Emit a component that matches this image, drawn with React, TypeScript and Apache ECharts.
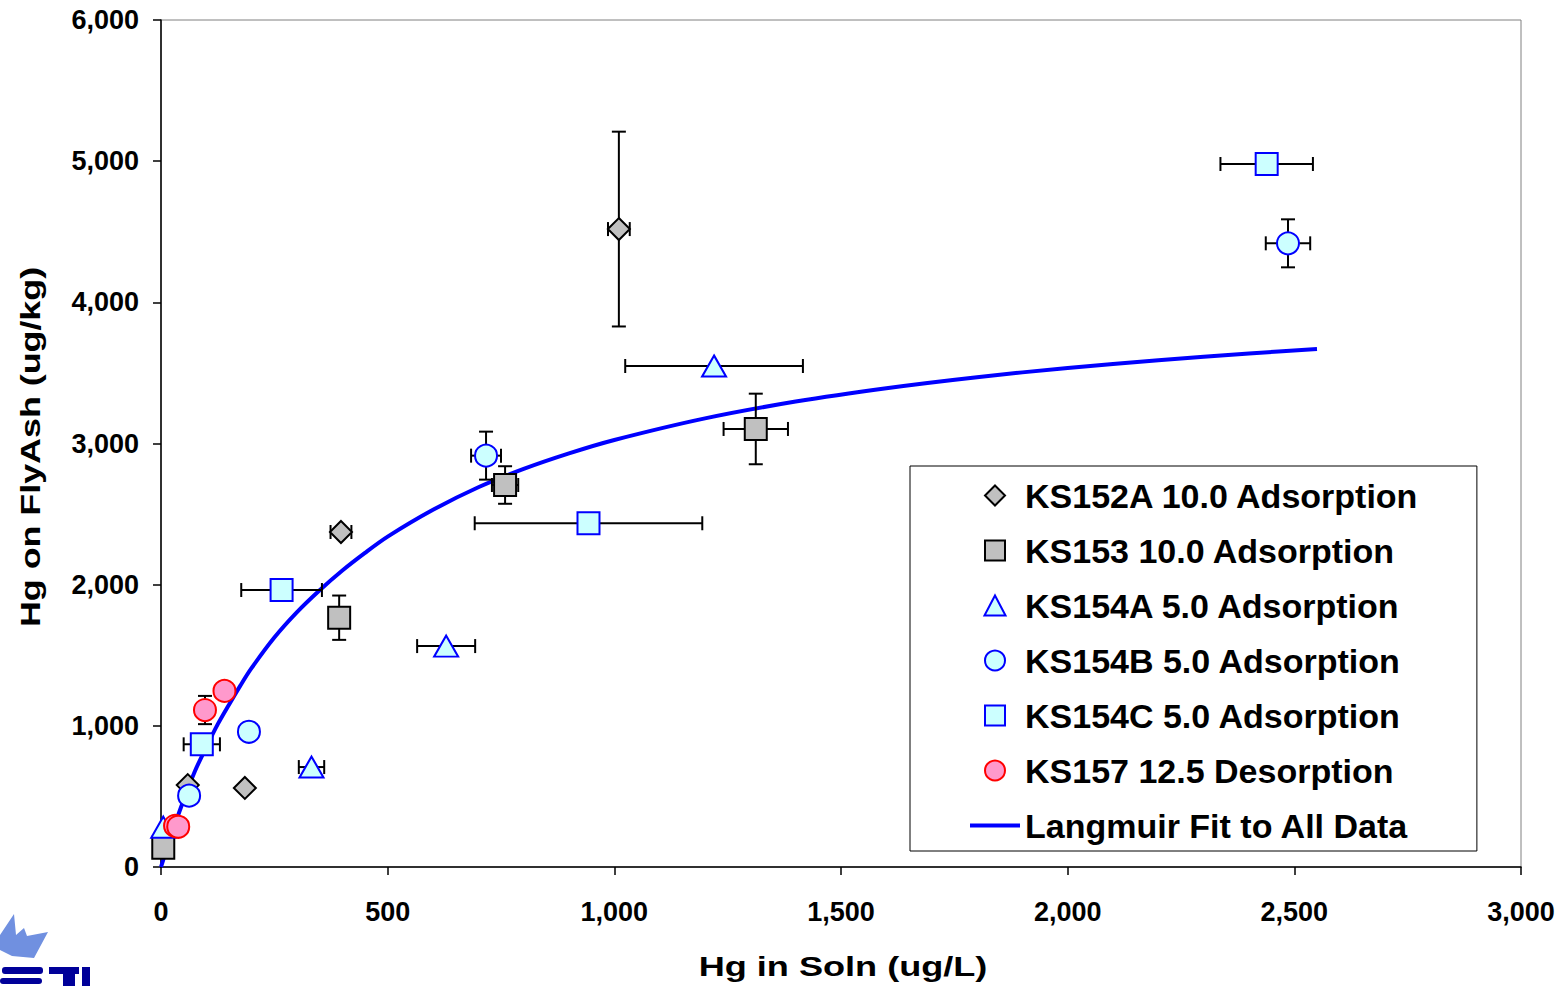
import React, { useEffect, useRef } from "react";
import * as echarts from "echarts";

// ---- data ----
const ks152aX = [59, 185, 397, 1010];
const ks152aY = [580, 560, 2373, 4519];
const ks152aXErr = [0, 0, 23, 24];
const ks152aYErr = [0, 0, 0, 690];

const ks153X = [5, 393, 759, 1312];
const ks153Y = [137, 1766, 2706, 3103];
const ks153XErr = [0, 0, 29, 71];
const ks153YErr = [0, 157, 133, 250];

const ks154aX = [5, 332, 629, 1220];
const ks154aY = [282, 708, 1565, 3549];
const ks154aXErr = [0, 28, 64, 196];
const ks154aYErr = [0, 0, 0, 0];

const ks154bX = [62, 194, 717, 2486];
const ks154bY = [505, 958, 2914, 4418];
const ks154bXErr = [0, 0, 33, 49];
const ks154bYErr = [0, 0, 170, 170];

const ks154cX = [90, 266, 943, 2439];
const ks154cY = [869, 1962, 2435, 4980];
const ks154cXErr = [40, 89, 251, 102];
const ks154cYErr = [0, 0, 0, 0];

const ks157X = [31, 38, 97, 140];
const ks157Y = [292, 285, 1112, 1247];
const ks157XErr = [0, 0, 0, 0];
const ks157YErr = [0, 0, 100, 0];

const fitX = [0, 10, 25, 50, 75, 100, 125, 150, 175, 200, 250, 300, 350, 400, 450, 500, 600, 700, 800, 900, 1000, 1200, 1400, 1600, 1800, 2000, 2200, 2400, 2550];
const fitY = [0, 102, 250, 475, 680, 850, 1010, 1150, 1285, 1410, 1625, 1805, 1960, 2100, 2225, 2340, 2530, 2690, 2820, 2930, 3025, 3178, 3297, 3392, 3470, 3535, 3590, 3638, 3669];

const seriesNames = [
  "KS152A 10.0 Adsorption",
  "KS153 10.0 Adsorption",
  "KS154A 5.0 Adsorption",
  "KS154B 5.0 Adsorption",
  "KS154C 5.0 Adsorption",
  "KS157 12.5 Desorption",
];
const fitName = "Langmuir Fit to All Data";

const xTitle = "Hg in Soln (ug/L)";
const yTitle = "Hg on FlyAsh (ug/kg)";

const FONT = "'Liberation Sans', Arial, sans-serif";

const zip = (xs: number[], ys: number[]) => xs.map((x, i) => [x, ys[i]]);
const zipErr = (xs: number[], ys: number[], ex: number[], ey: number[]) =>
  xs.map((x, i) => [x, ys[i], ex[i], ey[i]]);

const ICON_DIAMOND = "path://M10,0 L20,10 L10,20 L0,10 Z";
const ICON_SQUARE = "path://M0,0 L19,0 L19,19 L0,19 Z";
const ICON_TRIANGLE = "path://M10,0 L20,19 L0,19 Z";
const ICON_LINE = "path://M0,0 L50,0 L50,4 L0,4 Z";

export default function App() {
  const ref = useRef<HTMLDivElement>(null);
  useEffect(() => {
    if (!ref.current) return;
    const chart = echarts.init(ref.current, undefined, { renderer: "svg" });

    const groups = [
      { name: seriesNames[0], x: ks152aX, y: ks152aY, ex: ks152aXErr, ey: ks152aYErr, symbol: "diamond", size: 22, fill: "#C0C0C0", stroke: "#000000", icon: ICON_DIAMOND },
      { name: seriesNames[1], x: ks153X, y: ks153Y, ex: ks153XErr, ey: ks153YErr, symbol: "rect", size: 22, fill: "#C0C0C0", stroke: "#000000", icon: ICON_SQUARE },
      { name: seriesNames[2], x: ks154aX, y: ks154aY, ex: ks154aXErr, ey: ks154aYErr, symbol: "triangle", size: [24, 21], fill: "#CCFFFF", stroke: "#0000FF", icon: ICON_TRIANGLE },
      { name: seriesNames[3], x: ks154bX, y: ks154bY, ex: ks154bXErr, ey: ks154bYErr, symbol: "circle", size: 22, fill: "#CCFFFF", stroke: "#0000FF", icon: "circle" },
      { name: seriesNames[4], x: ks154cX, y: ks154cY, ex: ks154cXErr, ey: ks154cYErr, symbol: "rect", size: 22, fill: "#CCFFFF", stroke: "#0000FF", icon: ICON_SQUARE },
      { name: seriesNames[5], x: ks157X, y: ks157Y, ex: ks157XErr, ey: ks157YErr, symbol: "circle", size: 22, fill: "#FF99CC", stroke: "#FF0000", icon: "circle" },
    ];

    const errData: number[][] = [];
    groups.forEach((g) => errData.push(...zipErr(g.x, g.y, g.ex, g.ey)));

    const cap = 7;
    const errSeries = {
      type: "custom",
      name: "errors",
      data: errData,
      encode: { x: 0, y: 1 },
      z: 2,
      silent: true,
      renderItem: (params: any, api: any) => {
        const x = api.value(0);
        const y = api.value(1);
        const ex = api.value(2);
        const ey = api.value(3);
        const style = { stroke: "#000000", lineWidth: 2 };
        const children: any[] = [];
        if (ex > 0) {
          const a = api.coord([x - ex, y]);
          const b = api.coord([x + ex, y]);
          children.push({ type: "line", shape: { x1: a[0], y1: a[1], x2: b[0], y2: b[1] }, style });
          children.push({ type: "line", shape: { x1: a[0], y1: a[1] - cap, x2: a[0], y2: a[1] + cap }, style });
          children.push({ type: "line", shape: { x1: b[0], y1: b[1] - cap, x2: b[0], y2: b[1] + cap }, style });
        }
        if (ey > 0) {
          const a = api.coord([x, y - ey]);
          const b = api.coord([x, y + ey]);
          children.push({ type: "line", shape: { x1: a[0], y1: a[1], x2: b[0], y2: b[1] }, style });
          children.push({ type: "line", shape: { x1: a[0] - cap, y1: a[1], x2: a[0] + cap, y2: a[1] }, style });
          children.push({ type: "line", shape: { x1: b[0] - cap, y1: b[1], x2: b[0] + cap, y2: b[1] }, style });
        }
        return { type: "group", children };
      },
    };

    const scatterSeries = groups.map((g) => ({
      type: "scatter",
      name: g.name,
      data: zip(g.x, g.y),
      symbol: g.symbol,
      symbolSize: g.size,
      z: 3,
      itemStyle: { color: g.fill, borderColor: g.stroke, borderWidth: 2, opacity: 1 },
    }));

    const fitSeries = {
      type: "line",
      name: fitName,
      data: zip(fitX, fitY),
      smooth: 0.3,
      showSymbol: false,
      symbol: "none",
      z: 1,
      lineStyle: { color: "#0000FF", width: 4 },
      itemStyle: { color: "#0000FF", borderWidth: 0 },
    };

    const legendData: any[] = groups.map((g) => ({ name: g.name, icon: g.icon }));
    legendData.push({ name: fitName, icon: ICON_LINE, itemStyle: { color: "#0000FF", borderWidth: 0 } });

    const option: any = {
      animation: false,
      backgroundColor: "#ffffff",
      grid: {
        left: 161,
        right: 43,
        top: 20,
        bottom: 119,
        show: true,
        borderColor: "#808080",
        borderWidth: 1,
        backgroundColor: "transparent",
      },
      xAxis: {
        type: "value",
        min: 0,
        max: 3000,
        interval: 500,
        axisLine: { show: true, onZero: false, lineStyle: { color: "#000000", width: 1.5 } },
        axisTick: { show: true, inside: false, length: 8, lineStyle: { color: "#000000", width: 1.5 } },
        splitLine: { show: false },
        axisLabel: {
          margin: 31,
          color: "#000000",
          fontFamily: FONT,
          fontWeight: "bold",
          fontSize: 27,
          formatter: (v: number) => v.toLocaleString("en-US"),
        },
      },
      yAxis: {
        type: "value",
        min: 0,
        max: 6000,
        interval: 1000,
        axisLine: { show: true, onZero: false, lineStyle: { color: "#000000", width: 1.5 } },
        axisTick: { show: true, inside: false, length: 8, lineStyle: { color: "#000000", width: 1.5 } },
        splitLine: { show: false },
        axisLabel: {
          margin: 22,
          color: "#000000",
          fontFamily: FONT,
          fontWeight: "bold",
          fontSize: 27,
          formatter: (v: number) => v.toLocaleString("en-US"),
        },
      },
      legend: {
        orient: "vertical",
        left: 910,
        top: 466,
        padding: [12, 57, 8, 60],
        itemGap: 20,
        itemWidth: 50,
        itemHeight: 20,
        symbolKeepAspect: true,
        borderColor: "#000000",
        borderWidth: 1,
        backgroundColor: "#ffffff",
        data: legendData,
        textStyle: {
          color: "#000000",
          fontFamily: FONT,
          fontWeight: "bold",
          fontSize: 34,
          lineHeight: 35,
        },
      },
      graphic: [
        {
          type: "text",
          x: 843,
          y: 966,
          scaleX: 1.29,
          style: {
            text: xTitle,
            fill: "#000000",
            fontFamily: FONT,
            fontWeight: "bold",
            fontSize: 28,
            align: "center",
            verticalAlign: "middle",
          },
        },
        {
          type: "text",
          x: 30,
          y: 447,
          rotation: Math.PI / 2,
          scaleX: 1.28,
          style: {
            text: yTitle,
            fill: "#000000",
            fontFamily: FONT,
            fontWeight: "bold",
            fontSize: 28,
            align: "center",
            verticalAlign: "middle",
          },
        },
        {
          type: "polygon",
          shape: {
            points: [
              [0, 935], [14, 914], [16, 935], [24, 928], [27, 936], [48, 932], [34, 958], [12, 956], [0, 950],
            ],
          },
          style: { fill: "#7090E0" },
        },
        { type: "rect", shape: { x: 2, y: 967, width: 41, height: 7, r: 3 }, style: { fill: "#000099" } },
        { type: "rect", shape: { x: 0, y: 978, width: 42, height: 6, r: 3 }, style: { fill: "#000099" } },
        { type: "rect", shape: { x: 49, y: 967, width: 30, height: 7 }, style: { fill: "#000099" } },
        { type: "rect", shape: { x: 63, y: 967, width: 12, height: 19 }, style: { fill: "#000099" } },
        { type: "rect", shape: { x: 82, y: 967, width: 8, height: 19 }, style: { fill: "#000099" } },
      ],
      series: [fitSeries, errSeries, ...scatterSeries],
    };

    chart.setOption(option);
    return () => chart.dispose();
  }, []);

  return (
    <div
      ref={ref}
      style={{ position: "fixed", left: 0, top: 0, width: 1564, height: 986, background: "#fff" }}
    />
  );
}
